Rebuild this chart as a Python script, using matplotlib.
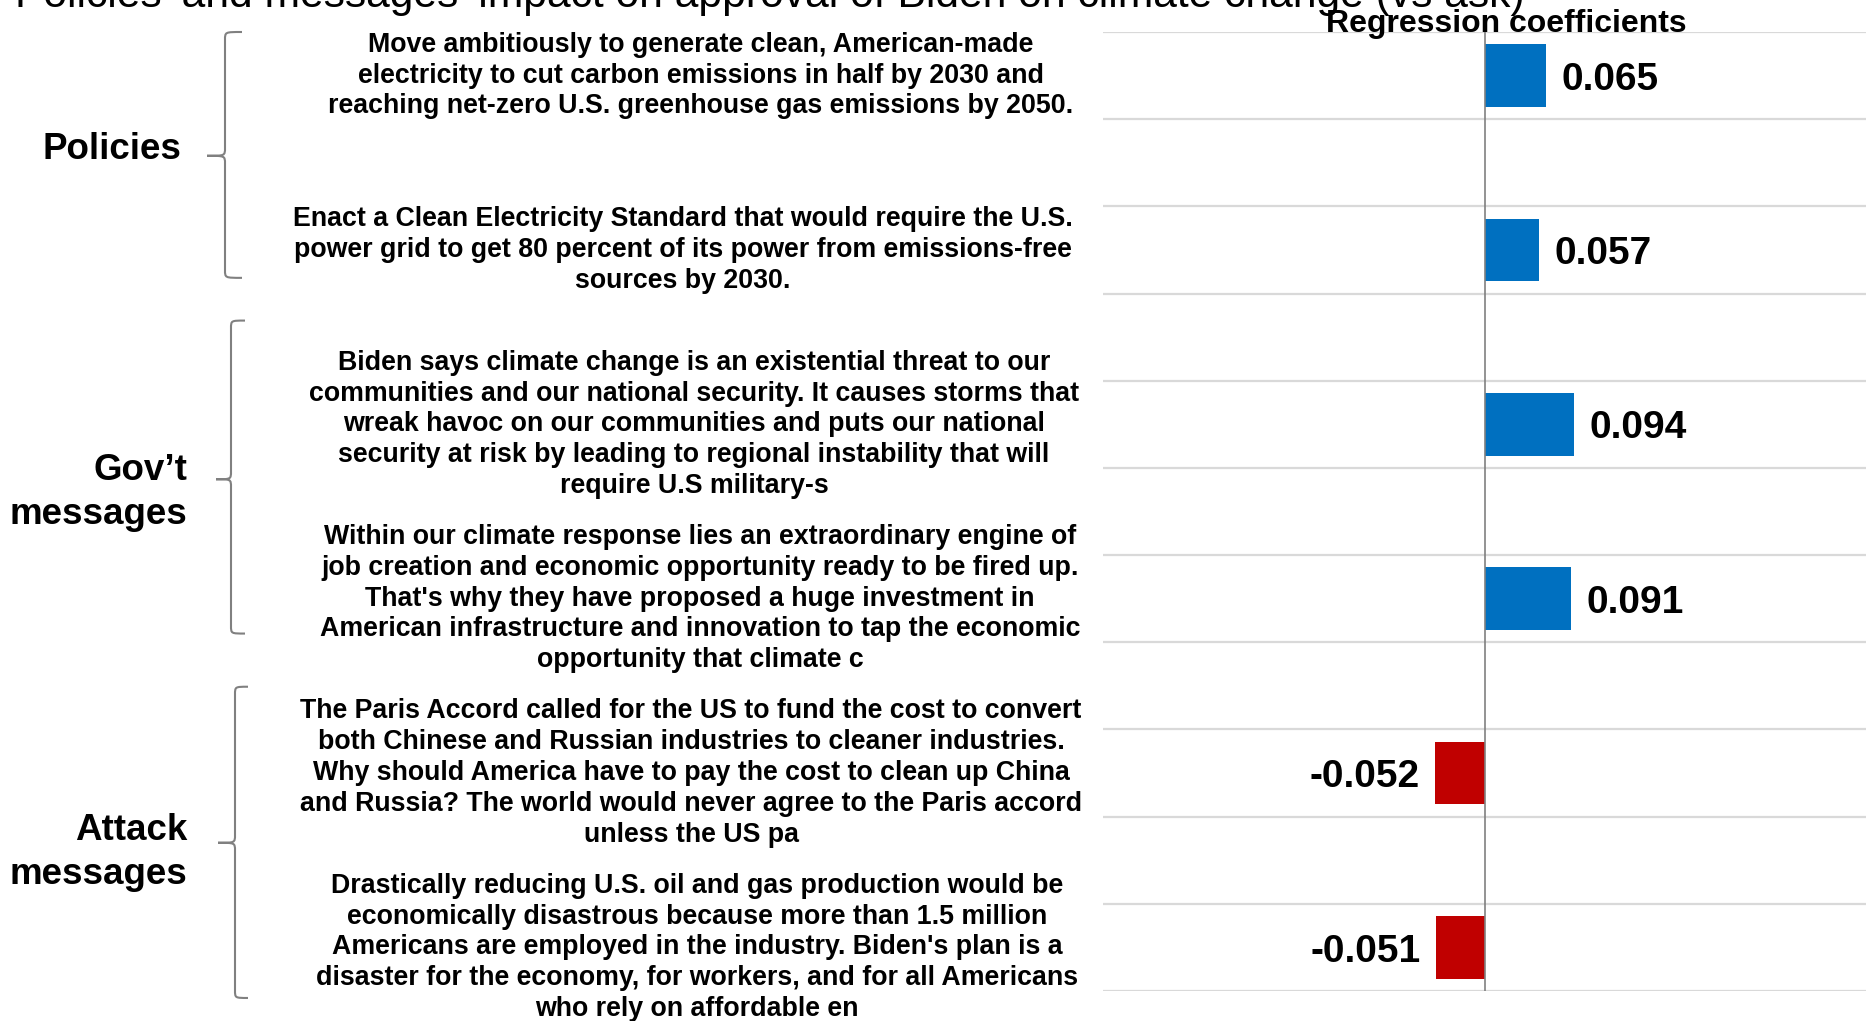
import numpy as np
import matplotlib
matplotlib.use("Agg")
import matplotlib.pyplot as plt
from matplotlib.path import Path
from matplotlib.patches import PathPatch
import matplotlib.transforms as mtransforms

plt.rcParams['font.family'] = ['Liberation Sans', 'DejaVu Sans']

# ---- data ----
title = "Policies' and messages' impact on approval of Biden on climate change (vs ask)"
axis_title = "Regression coefficients"

statements = [
    "Move ambitiously to generate clean, American-made\nelectricity to cut carbon emissions in half by 2030 and\nreaching net-zero U.S. greenhouse gas emissions by 2050.",
    "Enact a Clean Electricity Standard that would require the U.S.\npower grid to get 80 percent of its power from emissions-free\nsources by 2030.",
    "Biden says climate change is an existential threat to our\ncommunities and our national security. It causes storms that\nwreak havoc on our communities and puts our national\nsecurity at risk by leading to regional instability that will\nrequire U.S military-s",
    "Within our climate response lies an extraordinary engine of\njob creation and economic opportunity ready to be fired up.\nThat's why they have proposed a huge investment in\nAmerican infrastructure and innovation to tap the economic\nopportunity that climate c",
    "The Paris Accord called for the US to fund the cost to convert\nboth Chinese and Russian industries to cleaner industries.\nWhy should America have to pay the cost to clean up China\nand Russia? The world would never agree to the Paris accord\nunless the US pa",
    "Drastically reducing U.S. oil and gas production would be\neconomically disastrous because more than 1.5 million\nAmericans are employed in the industry. Biden's plan is a\ndisaster for the economy, for workers, and for all Americans\nwho rely on affordable en",
]
coefs = [0.065, 0.057, 0.094, 0.091, -0.052, -0.051]

groups = ["Policies", "Gov\u2019t\nmessages", "Attack\nmessages"]

# ---- layout (pixels in the 1872x1021 canvas / data units on the row axis) ----
W, H = 1872, 1021
stmt_x = [701, 683, 694, 700, 691, 697]
group_x = [181, 187.5, 187.5]
group_y = [0.85, 4.78, 8.91]
# brace: top, bottom, tip (row units); hook x, vertical x, tip x (pixels)
braces = [
    (-0.50, 2.32, 0.92, 242, 225, 207),
    (2.81, 6.40, 4.63, 245, 231, 216),
    (7.01, 10.58, 8.80, 248, 235, 218),
]

BLUE = "#0070C0"
RED = "#C00000"

fig = plt.figure(figsize=(W / 100, H / 100), dpi=100)
ax = fig.add_axes([1103 / W, 1 - 991 / H, (1866 - 1103) / W, (991 - 32) / H])

rows = np.arange(len(coefs)) * 2
colors = [BLUE if v >= 0 else RED for v in coefs]
ax.barh(rows, coefs, height=0.72, color=colors, zorder=3)

for y, v in zip(rows, coefs):
    off = 11 if v >= 0 else -11
    ax.annotate(f"{v:.3f}", xy=(v, y), xytext=(off, -3), textcoords="offset points",
                ha="left" if v >= 0 else "right", va="center",
                fontsize=28, fontweight="bold", color="black")

ax.set_xlim(-0.4, 0.4)
ax.set_ylim(rows[-1] + 0.5, -0.5)
ax.set_yticks(np.arange(-0.5, rows[-1] + 1))
ax.set_yticklabels([])
ax.set_xticks([])
ax.tick_params(length=0)
ax.yaxis.grid(True, color="#D9D9D9", linewidth=1.6, zorder=0)
ax.axvline(0, color="#808080", linewidth=1.2, zorder=4)
for s in ax.spines.values():
    s.set_visible(False)

blend = mtransforms.blended_transform_factory(fig.transFigure, ax.transData)

for y, txt, x in zip(rows, statements, stmt_x):
    ax.text(x / W, y, txt, transform=blend, ha="center", va="center",
            multialignment="center", fontsize=19.3, fontweight="bold", linespacing=1.24)

for name, x, y in zip(groups, group_x, group_y):
    ax.text(x / W, y, name, transform=blend, ha="right", va="center",
            multialignment="right", fontsize=26.5, fontweight="bold", linespacing=1.34)

r = 0.09
for top, bot, tip, xh, xv, xt in braces:
    xh, xv, xt = xh / W, xv / W, xt / W
    verts = [
        (xh, top), (xv, top), (xv, top), (xv, top + r),
        (xv, tip - r),
        (xv, tip), (xv, tip), (xt, tip),
        (xv, tip), (xv, tip), (xv, tip + r),
        (xv, bot - r),
        (xv, bot), (xv, bot), (xh, bot),
    ]
    codes = [Path.MOVETO, Path.CURVE4, Path.CURVE4, Path.CURVE4,
             Path.LINETO,
             Path.CURVE4, Path.CURVE4, Path.CURVE4,
             Path.CURVE4, Path.CURVE4, Path.CURVE4,
             Path.LINETO,
             Path.CURVE4, Path.CURVE4, Path.CURVE4]
    ax.add_patch(PathPatch(Path(verts, codes), transform=blend, fill=False,
                           edgecolor="#808080", linewidth=1.5, clip_on=False))

fig.text(15 / W, 1 - 7 / H, title, ha="left", va="baseline", fontsize=30.7)
fig.text(1506 / W, 1 - 32 / H, axis_title, ha="center", va="baseline",
         fontsize=23, fontweight="bold")

fig.savefig("out.png", dpi=100)
